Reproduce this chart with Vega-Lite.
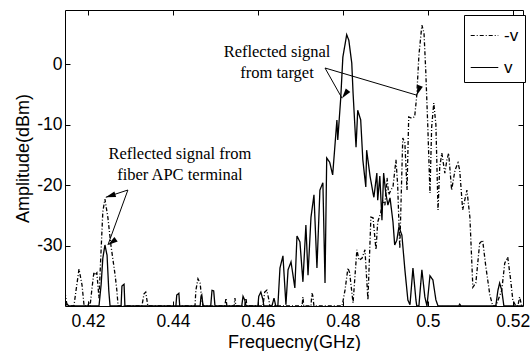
{
  "$schema": "https://vega.github.io/schema/vega-lite/v6.json",
  "width": 458,
  "height": 296,
  "autosize": {"type": "none"},
  "padding": {"left": 65, "top": 10, "right": 7, "bottom": 45},
  "background": "white",
  "config": {
    "view": {"stroke": "black", "strokeWidth": 1},
    "axis": {
      "domainColor": "black", "tickColor": "black", "labelColor": "black", "titleColor": "black",
      "labelFont": "Liberation Sans", "titleFont": "Liberation Sans",
      "labelFontSize": 17.5, "titleFontSize": 18, "titleFontWeight": "normal",
      "grid": false, "tickSize": -5
    }
  },
  "datasets": {
    "spec": [
      {"f":0.4146,"a":-40,"s":"v"},{"f":0.4151,"a":-39.7,"s":"v"},{"f":0.4155,"a":-40,"s":"v"},{"f":0.4226,"a":-40,"s":"v"},
      {"f":0.4231,"a":-36.5,"s":"v"},{"f":0.4235,"a":-32.1,"s":"v"},{"f":0.4240,"a":-29.9,"s":"v"},{"f":0.4245,"a":-31.6,"s":"v"},
      {"f":0.4249,"a":-37.4,"s":"v"},{"f":0.4252,"a":-40,"s":"v"},{"f":0.4278,"a":-40,"s":"v"},{"f":0.4280,"a":-36.7,"s":"v"},
      {"f":0.4285,"a":-36.4,"s":"v"},{"f":0.4287,"a":-40,"s":"v"},{"f":0.4407,"a":-40,"s":"v"},{"f":0.4409,"a":-38.2,"s":"v"},
      {"f":0.4414,"a":-37.9,"s":"v"},{"f":0.4416,"a":-40,"s":"v"},{"f":0.4464,"a":-40,"s":"v"},{"f":0.4466,"a":-38.5,"s":"v"},
      {"f":0.4468,"a":-38.2,"s":"v"},{"f":0.4471,"a":-40,"s":"v"},{"f":0.4489,"a":-40,"s":"v"},{"f":0.4492,"a":-37.4,"s":"v"},
      {"f":0.4496,"a":-37.5,"s":"v"},{"f":0.4499,"a":-40,"s":"v"},{"f":0.4562,"a":-40,"s":"v"},{"f":0.4565,"a":-38.4,"s":"v"},
      {"f":0.4569,"a":-39.0,"s":"v"},{"f":0.4572,"a":-40,"s":"v"},{"f":0.4600,"a":-40,"s":"v"},{"f":0.4602,"a":-38.4,"s":"v"},
      {"f":0.4607,"a":-37.7,"s":"v"},{"f":0.4612,"a":-39.0,"s":"v"},{"f":0.4614,"a":-40,"s":"v"},{"f":0.4633,"a":-40,"s":"v"},
      {"f":0.4638,"a":-38.7,"s":"v"},{"f":0.4642,"a":-40,"s":"v"},{"f":0.4647,"a":-40,"s":"v"},{"f":0.4652,"a":-33.7,"s":"v"},
      {"f":0.4659,"a":-31.7,"s":"v"},{"f":0.4666,"a":-39.8,"s":"v"},{"f":0.4671,"a":-34.0,"s":"v"},{"f":0.4678,"a":-32.7,"s":"v"},
      {"f":0.4687,"a":-37.0,"s":"v"},{"f":0.4692,"a":-28.4,"s":"v"},{"f":0.4699,"a":-29.4,"s":"v"},{"f":0.4706,"a":-36.0,"s":"v"},
      {"f":0.4713,"a":-26.6,"s":"v"},{"f":0.4718,"a":-34.9,"s":"v"},{"f":0.4725,"a":-25.3,"s":"v"},{"f":0.4732,"a":-21.6,"s":"v"},
      {"f":0.4739,"a":-33.7,"s":"v"},{"f":0.4746,"a":-20.8,"s":"v"},{"f":0.4753,"a":-19.6,"s":"v"},{"f":0.4758,"a":-36.2,"s":"v"},
      {"f":0.4762,"a":-15.5,"s":"v"},{"f":0.4769,"a":-16.2,"s":"v"},{"f":0.4776,"a":-18.3,"s":"v"},{"f":0.4786,"a":-9.2,"s":"v"},
      {"f":0.4788,"a":-12.5,"s":"v"},{"f":0.4795,"a":-5.6,"s":"v"},{"f":0.4800,"a":1.2,"s":"v"},{"f":0.4809,"a":4.9,"s":"v"},
      {"f":0.4814,"a":4.0,"s":"v"},{"f":0.4821,"a":0.2,"s":"v"},{"f":0.4824,"a":-4.7,"s":"v"},{"f":0.4831,"a":-13.7,"s":"v"},
      {"f":0.4835,"a":-7.6,"s":"v"},{"f":0.4842,"a":-9.2,"s":"v"},{"f":0.4847,"a":-15.8,"s":"v"},{"f":0.4854,"a":-20.3,"s":"v"},
      {"f":0.4856,"a":-14.2,"s":"v"},{"f":0.4864,"a":-18.5,"s":"v"},{"f":0.4871,"a":-21.3,"s":"v"},{"f":0.4873,"a":-22.0,"s":"v"},
      {"f":0.4880,"a":-18.0,"s":"v"},{"f":0.4882,"a":-22.5,"s":"v"},{"f":0.4887,"a":-18.5,"s":"v"},{"f":0.4892,"a":-25.8,"s":"v"},
      {"f":0.4896,"a":-18.0,"s":"v"},{"f":0.4901,"a":-21.3,"s":"v"},{"f":0.4906,"a":-23.3,"s":"v"},{"f":0.4911,"a":-22.1,"s":"v"},
      {"f":0.4918,"a":-26.1,"s":"v"},{"f":0.4922,"a":-29.9,"s":"v"},{"f":0.4927,"a":-29.1,"s":"v"},{"f":0.4932,"a":-26.9,"s":"v"},
      {"f":0.4939,"a":-28.3,"s":"v"},{"f":0.4946,"a":-34.0,"s":"v"},{"f":0.4953,"a":-39.0,"s":"v"},{"f":0.4958,"a":-39.8,"s":"v"},
      {"f":0.4965,"a":-33.7,"s":"v"},{"f":0.4972,"a":-39.0,"s":"v"},{"f":0.4974,"a":-40,"s":"v"},{"f":0.4979,"a":-40,"s":"v"},
      {"f":0.4986,"a":-34.0,"s":"v"},{"f":0.4993,"a":-38.5,"s":"v"},{"f":0.4998,"a":-40,"s":"v"},{"f":0.5005,"a":-35.0,"s":"v"},
      {"f":0.5012,"a":-35.7,"s":"v"},{"f":0.5019,"a":-39.0,"s":"v"},{"f":0.5024,"a":-40,"s":"v"},{"f":0.5073,"a":-40,"s":"v"},
      {"f":0.5075,"a":-39.7,"s":"v"},{"f":0.5078,"a":-40,"s":"v"},{"f":0.5160,"a":-40,"s":"v"},{"f":0.5165,"a":-37.4,"s":"v"},
      {"f":0.5169,"a":-36.2,"s":"v"},{"f":0.5174,"a":-37.4,"s":"v"},{"f":0.5179,"a":-40,"s":"v"},{"f":0.5224,"a":-40,"s":"v"},

      {"f":0.4146,"a":-37.7,"s":"-v"},{"f":0.4151,"a":-40,"s":"-v"},{"f":0.4167,"a":-40,"s":"-v"},{"f":0.4172,"a":-37.4,"s":"-v"},
      {"f":0.4179,"a":-33.9,"s":"-v"},{"f":0.4186,"a":-36.5,"s":"-v"},{"f":0.4191,"a":-40,"s":"-v"},{"f":0.4200,"a":-40,"s":"-v"},
      {"f":0.4202,"a":-39.5,"s":"-v"},{"f":0.4205,"a":-40,"s":"-v"},{"f":0.4209,"a":-37.4,"s":"-v"},{"f":0.4214,"a":-34.4,"s":"-v"},
      {"f":0.4216,"a":-34.9,"s":"-v"},{"f":0.4221,"a":-34.5,"s":"-v"},{"f":0.4226,"a":-38.7,"s":"-v"},{"f":0.4231,"a":-30.7,"s":"-v"},
      {"f":0.4235,"a":-24.4,"s":"-v"},{"f":0.4240,"a":-22.3,"s":"-v"},{"f":0.4247,"a":-25.4,"s":"-v"},{"f":0.4254,"a":-29.9,"s":"-v"},
      {"f":0.4264,"a":-34.9,"s":"-v"},{"f":0.4268,"a":-37.4,"s":"-v"},{"f":0.4271,"a":-40,"s":"-v"},{"f":0.4327,"a":-40,"s":"-v"},
      {"f":0.4332,"a":-38.0,"s":"-v"},{"f":0.4336,"a":-37.7,"s":"-v"},{"f":0.4341,"a":-40,"s":"-v"},{"f":0.4452,"a":-40,"s":"-v"},
      {"f":0.4454,"a":-37.4,"s":"-v"},{"f":0.4459,"a":-35.5,"s":"-v"},{"f":0.4464,"a":-36.2,"s":"-v"},{"f":0.4468,"a":-39.0,"s":"-v"},
      {"f":0.4471,"a":-40,"s":"-v"},{"f":0.4522,"a":-40,"s":"-v"},{"f":0.4525,"a":-38.7,"s":"-v"},{"f":0.4527,"a":-40,"s":"-v"},
      {"f":0.4544,"a":-40,"s":"-v"},{"f":0.4546,"a":-38.7,"s":"-v"},{"f":0.4548,"a":-40,"s":"-v"},{"f":0.4569,"a":-40,"s":"-v"},
      {"f":0.4572,"a":-38.7,"s":"-v"},{"f":0.4574,"a":-40,"s":"-v"},{"f":0.4612,"a":-40,"s":"-v"},{"f":0.4616,"a":-37.7,"s":"-v"},
      {"f":0.4621,"a":-37.4,"s":"-v"},{"f":0.4626,"a":-39.0,"s":"-v"},{"f":0.4628,"a":-40,"s":"-v"},{"f":0.4704,"a":-40,"s":"-v"},
      {"f":0.4706,"a":-38.5,"s":"-v"},{"f":0.4708,"a":-40,"s":"-v"},{"f":0.4725,"a":-40,"s":"-v"},{"f":0.4727,"a":-37.9,"s":"-v"},
      {"f":0.4729,"a":-38.2,"s":"-v"},{"f":0.4732,"a":-40,"s":"-v"},{"f":0.4798,"a":-40,"s":"-v"},{"f":0.4800,"a":-39.3,"s":"-v"},
      {"f":0.4805,"a":-37.4,"s":"-v"},{"f":0.4812,"a":-33.7,"s":"-v"},{"f":0.4816,"a":-34.5,"s":"-v"},{"f":0.4824,"a":-39.5,"s":"-v"},
      {"f":0.4833,"a":-30.7,"s":"-v"},{"f":0.4838,"a":-32.4,"s":"-v"},{"f":0.4845,"a":-32.1,"s":"-v"},{"f":0.4852,"a":-30.7,"s":"-v"},
      {"f":0.4859,"a":-39.0,"s":"-v"},{"f":0.4866,"a":-25.3,"s":"-v"},{"f":0.4871,"a":-25.4,"s":"-v"},{"f":0.4878,"a":-30.7,"s":"-v"},
      {"f":0.4882,"a":-26.1,"s":"-v"},{"f":0.4889,"a":-24.6,"s":"-v"},{"f":0.4894,"a":-22.5,"s":"-v"},{"f":0.4899,"a":-23.3,"s":"-v"},
      {"f":0.4904,"a":-18.8,"s":"-v"},{"f":0.4908,"a":-21.6,"s":"-v"},{"f":0.4913,"a":-20.8,"s":"-v"},{"f":0.4918,"a":-20.3,"s":"-v"},
      {"f":0.4925,"a":-15.8,"s":"-v"},{"f":0.4929,"a":-20.0,"s":"-v"},{"f":0.4934,"a":-30.5,"s":"-v"},{"f":0.4941,"a":-12.2,"s":"-v"},
      {"f":0.4946,"a":-13.0,"s":"-v"},{"f":0.4951,"a":-20.8,"s":"-v"},{"f":0.4955,"a":-8.7,"s":"-v"},{"f":0.4962,"a":-8.9,"s":"-v"},
      {"f":0.4969,"a":-8.7,"s":"-v"},{"f":0.4974,"a":-5.1,"s":"-v"},{"f":0.4979,"a":1.5,"s":"-v"},{"f":0.4986,"a":6.5,"s":"-v"},
      {"f":0.4991,"a":5.2,"s":"-v"},{"f":0.4995,"a":-0.9,"s":"-v"},{"f":0.5000,"a":-10.4,"s":"-v"},{"f":0.5005,"a":-21.3,"s":"-v"},
      {"f":0.5009,"a":-10.4,"s":"-v"},{"f":0.5014,"a":-6.4,"s":"-v"},{"f":0.5019,"a":-10.0,"s":"-v"},{"f":0.5024,"a":-24.1,"s":"-v"},
      {"f":0.5028,"a":-17.0,"s":"-v"},{"f":0.5033,"a":-14.7,"s":"-v"},{"f":0.5040,"a":-18.0,"s":"-v"},{"f":0.5045,"a":-15.8,"s":"-v"},
      {"f":0.5049,"a":-14.7,"s":"-v"},{"f":0.5056,"a":-20.8,"s":"-v"},{"f":0.5064,"a":-17.5,"s":"-v"},{"f":0.5071,"a":-16.3,"s":"-v"},
      {"f":0.5075,"a":-17.5,"s":"-v"},{"f":0.5082,"a":-24.1,"s":"-v"},{"f":0.5092,"a":-20.8,"s":"-v"},{"f":0.5099,"a":-25.3,"s":"-v"},
      {"f":0.5106,"a":-36.9,"s":"-v"},{"f":0.5113,"a":-36.2,"s":"-v"},{"f":0.5122,"a":-29.6,"s":"-v"},{"f":0.5129,"a":-29.1,"s":"-v"},
      {"f":0.5136,"a":-33.2,"s":"-v"},{"f":0.5146,"a":-38.2,"s":"-v"},{"f":0.5153,"a":-40,"s":"-v"},{"f":0.5160,"a":-40,"s":"-v"},
      {"f":0.5174,"a":-37.4,"s":"-v"},{"f":0.5181,"a":-32.9,"s":"-v"},{"f":0.5188,"a":-31.9,"s":"-v"},{"f":0.5195,"a":-35.7,"s":"-v"},
      {"f":0.5200,"a":-39.0,"s":"-v"},{"f":0.5207,"a":-40,"s":"-v"},{"f":0.5212,"a":-40,"s":"-v"},{"f":0.5216,"a":-38.5,"s":"-v"},
      {"f":0.5221,"a":-40,"s":"-v"}
    ],
    "arrows": [
      {"id":"a1","x":0.4294,"y":-20.8,"x2":0.4242,"y2":-22.0},
      {"id":"a2","x":0.4294,"y":-20.8,"x2":0.4247,"y2":-29.9},
      {"id":"a3","x":0.4758,"y":-0.6,"x2":0.4798,"y2":-5.6},
      {"id":"a4","x":0.4758,"y":-0.6,"x2":0.4974,"y2":-5.1}
    ],
    "notes": [
      {"x":0.44165,"y":-14.8,"t":"Reflected signal from"},
      {"x":0.44165,"y":-18.3,"t":"fiber APC terminal"},
      {"x":0.4645,"y":2.05,"t":"Reflected signal"},
      {"x":0.4645,"y":-1.4,"t":"from target"}
    ]
  },
  "layer": [
    {
      "data": {"name": "spec"},
      "mark": {"type": "line", "color": "black", "strokeWidth": 1.3, "clip": true},
      "encoding": {
        "x": {"field": "f", "type": "quantitative",
              "scale": {"domain": [0.4146, 0.5224], "nice": false, "zero": false},
              "axis": {"orient": "bottom", "values": [0.42,0.44,0.46,0.48,0.5,0.52], "format": ".2~f",
                       "labelPadding": 11, "title": "Frequecny(GHz)", "titleX": 229, "titleY": 41,
                       "titleBaseline": "alphabetic", "titleAlign": "center", "domain": false}},
        "y": {"field": "a", "type": "quantitative",
              "scale": {"domain": [-40, 9], "nice": false, "zero": false},
              "axis": {"orient": "left", "values": [-30,-20,-10,0], "labelExpr": "'' + datum.value",
                       "labelPadding": 8, "title": "Amplitude(dBm)", "titleX": -37, "titleY": 148,
                       "titleAngle": -90, "titleBaseline": "alphabetic", "titleAlign": "center", "domain": false}},
        "strokeDash": {"field": "s", "type": "nominal",
                       "scale": {"domain": ["-v", "v"], "range": [[4,2,1,2],[1,0]]},
                       "legend": {"orient": "none", "legendX": 399, "legendY": 5, "title": null,
                                  "symbolType": "stroke", "symbolSize": 760, "symbolStrokeWidth": 1.2,
                                  "symbolStrokeColor": "black", "labelFont": "Liberation Sans", "labelFontSize": 17,
                                  "labelColor": "black", "labelOffset": 5, "padding": 6, "rowPadding": 9,
                                  "strokeColor": "black", "fillColor": "white", "cornerRadius": 0}}
      }
    },
    {
      "data": {"name": "arrows"},
      "mark": {"type": "rule", "color": "black", "strokeWidth": 1},
      "encoding": {
        "x": {"field": "x", "type": "quantitative",
              "scale": {"domain": [0.4146, 0.5224], "nice": false, "zero": false},
              "axis": {"orient": "top", "values": [0.42,0.44,0.46,0.48,0.5,0.52], "labels": false, "title": null, "domain": false}},
        "y": {"field": "y", "type": "quantitative",
              "scale": {"domain": [-40, 9], "nice": false, "zero": false},
              "axis": {"orient": "right", "values": [-30,-20,-10,0], "labels": false, "title": null, "domain": false}},
        "x2": {"field": "x2"},
        "y2": {"field": "y2"}
      }
    },
    {
      "data": {"name": "arrows"},
      "mark": {"type": "point", "shape": "M0,0L0.6,2.1L-0.6,2.1Z", "filled": true, "color": "black",
               "opacity": 1, "size": 90, "strokeWidth": 0},
      "encoding": {
        "x": {"field": "x2", "type": "quantitative", "scale": {"domain": [0.4146, 0.5224], "nice": false, "zero": false}, "axis": null},
        "y": {"field": "y2", "type": "quantitative", "scale": {"domain": [-40, 9], "nice": false, "zero": false}, "axis": null},
        "angle": {"field": "id", "type": "nominal",
                  "scale": {"domain": ["a1","a2","a3","a4"], "range": [252, 200, 150, 106]}, "legend": null}
      }
    },
    {
      "data": {"name": "notes"},
      "mark": {"type": "text", "font": "Liberation Serif", "fontSize": 16.5, "color": "black",
               "align": "center", "baseline": "middle"},
      "encoding": {
        "x": {"field": "x", "type": "quantitative", "scale": {"domain": [0.4146, 0.5224], "nice": false, "zero": false}, "axis": null},
        "y": {"field": "y", "type": "quantitative", "scale": {"domain": [-40, 9], "nice": false, "zero": false}, "axis": null},
        "text": {"field": "t"}
      }
    }
  ],
  "resolve": {"axis": {"x": "independent", "y": "independent"}}
}
